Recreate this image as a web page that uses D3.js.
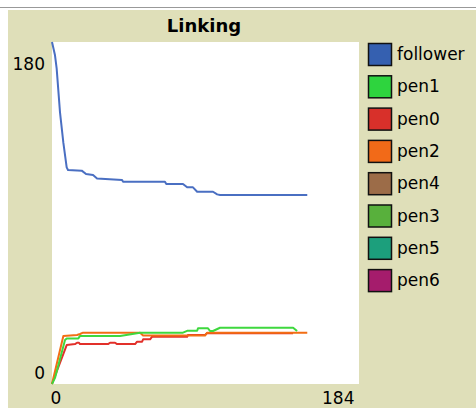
<!DOCTYPE html>
<html><head><meta charset="utf-8">
<script src="https://cdn.jsdelivr.net/npm/d3@7"></script>
<style>html,body{margin:0;padding:0;background:#fff;}svg{display:block;}</style>
</head><body>
<svg id="chart" width="476" height="408"></svg>
<script>
// ---- data ----
const title = "Linking";
const xTicks = [0, 184];
const yTicks = [0, 180];
const legendNames = ["follower","pen1","pen0","pen2","pen4","pen3","pen5","pen6"];
const legendColors = ["#3560b0","#2ed43e","#d8302a","#f26a18","#9c6c48","#58b03c","#1c9f7c","#a51c6c"];

const followerData = [[0,180],[1.8,173],[2.8,166],[4.8,143],[6.8,127],[8.8,114],[9.6,112.6],[17.8,112.3],[20.4,110.5],[24.6,110],[27,108.2],[42,107.4],[42.6,106.5],[67.7,106.5],[68.5,105.3],[78.5,105.3],[81,103.5],[84.5,103.5],[87,101.2],[96.5,101.2],[99,99.8],[100.7,99.5],[153,99.5]];
const pen1Data = [[0,0],[1.8,3.2],[7.8,23.2],[8.8,24],[15.8,24],[16.8,25.3],[40.8,25.3],[52.8,27],[78.5,27],[81,28],[87,28],[87.5,29.3],[93.5,29.3],[94.7,27.9],[96.5,27.9],[100.7,29.6],[144.5,29.6],[146.9,27.9]];
const pen0Data = [[0,0],[8.8,20.5],[13.8,21],[15,21.7],[16.2,21.7],[16.8,21],[33.6,21],[34.8,21.7],[37.8,21.7],[39,21],[49.8,21],[51,22.3],[54,22.3],[54.6,23.5],[58.8,23.5],[60,24.9],[81,24.9],[81.5,25.8],[91.7,25.8],[92.9,26.7],[144.5,26.7]];
const pen2Data = [[0,0],[6.8,25.3],[15,25.8],[16.8,26.3],[18.6,27],[52.8,27],[54.6,25.5],[91.7,25.5],[92.9,27],[153,27]];
const seriesData = [followerData, pen1Data, pen0Data, pen2Data];
const seriesColors = ["#4a6fc2","#3ed83e","#e2302a","#f26e14"];

// ---- layout ----
const svg = d3.select("#chart");
const W = 476, H = 408;
const plot = {left: 52, top: 42, right: 359, bottom: 384};
const beige = "#dfdfb9";

svg.append("rect").attr("x",0).attr("y",0).attr("width",W).attr("height",H).attr("fill","#fff");
svg.append("line").attr("x1",0).attr("x2",W).attr("y1",7.5).attr("y2",7.5).attr("stroke","#999").attr("stroke-width",1);
svg.append("rect").attr("x",8).attr("y",10).attr("width",W-8).attr("height",H-10).attr("fill",beige);

svg.append("text").attr("x",204).attr("y",32).attr("text-anchor","middle")
  .attr("font-family","DejaVu Sans, sans-serif").attr("font-weight","bold").attr("font-size",18)
  .attr("fill","#000").text(title);

svg.append("rect").attr("x",plot.left).attr("y",plot.top)
  .attr("width",plot.right-plot.left).attr("height",plot.bottom-plot.top).attr("fill","#fff");

const x = d3.scaleLinear().domain([xTicks[0], xTicks[1]]).range([plot.left, plot.right]);
const y = d3.scaleLinear().domain([yTicks[0], yTicks[1]]).range([plot.bottom, plot.top]);

// y labels
const yAxis = d3.axisLeft(y).tickValues(yTicks).tickSize(0).tickPadding(0).tickFormat(d3.format("d"));
const yg = svg.append("g").attr("transform",`translate(${plot.left-7},0)`).call(yAxis);
yg.select(".domain").remove();
yg.selectAll("text").attr("font-family","DejaVu Sans, sans-serif").attr("font-size",17).attr("fill","#000")
  .attr("dy",null)
  .attr("y", d => d === yTicks[1] ? 27 : -6);

// x labels
const xAxis = d3.axisBottom(x).tickValues(xTicks).tickSize(0).tickPadding(0).tickFormat(d3.format("d"));
const xg = svg.append("g").attr("transform",`translate(0,${plot.bottom})`).call(xAxis);
xg.select(".domain").remove();
xg.selectAll("text").attr("font-family","DejaVu Sans, sans-serif").attr("font-size",17).attr("fill","#000")
  .attr("dy",null).attr("y",20)
  .attr("text-anchor", d => d === xTicks[1] ? "end" : "start")
  .attr("x", d => d === xTicks[1] ? -5 : -2);

// lines
const line = d3.line().x(d => x(d[0])).y(d => y(d[1]));
const order = [2,3,1,0];
svg.append("g").selectAll("path").data(order).join("path")
  .attr("d", i => line(seriesData[i]))
  .attr("fill","none").attr("stroke", i => seriesColors[i]).attr("stroke-width",2)
  .attr("stroke-linejoin","round");

// legend
const lg = svg.append("g");
const items = lg.selectAll("g").data(legendNames).join("g")
  .attr("transform",(d,i)=>`translate(368,${43 + i*32.3})`);
items.append("rect").attr("x",0.5).attr("y",0.5).attr("width",23).attr("height",22)
  .attr("fill",(d,i)=>legendColors[i]).attr("stroke","#111").attr("stroke-width",1.5);
items.append("text").attr("x",29).attr("y",17).attr("font-family","DejaVu Sans, sans-serif")
  .attr("font-size",17).attr("fill","#000").text(d=>d);
</script>
</body></html>
